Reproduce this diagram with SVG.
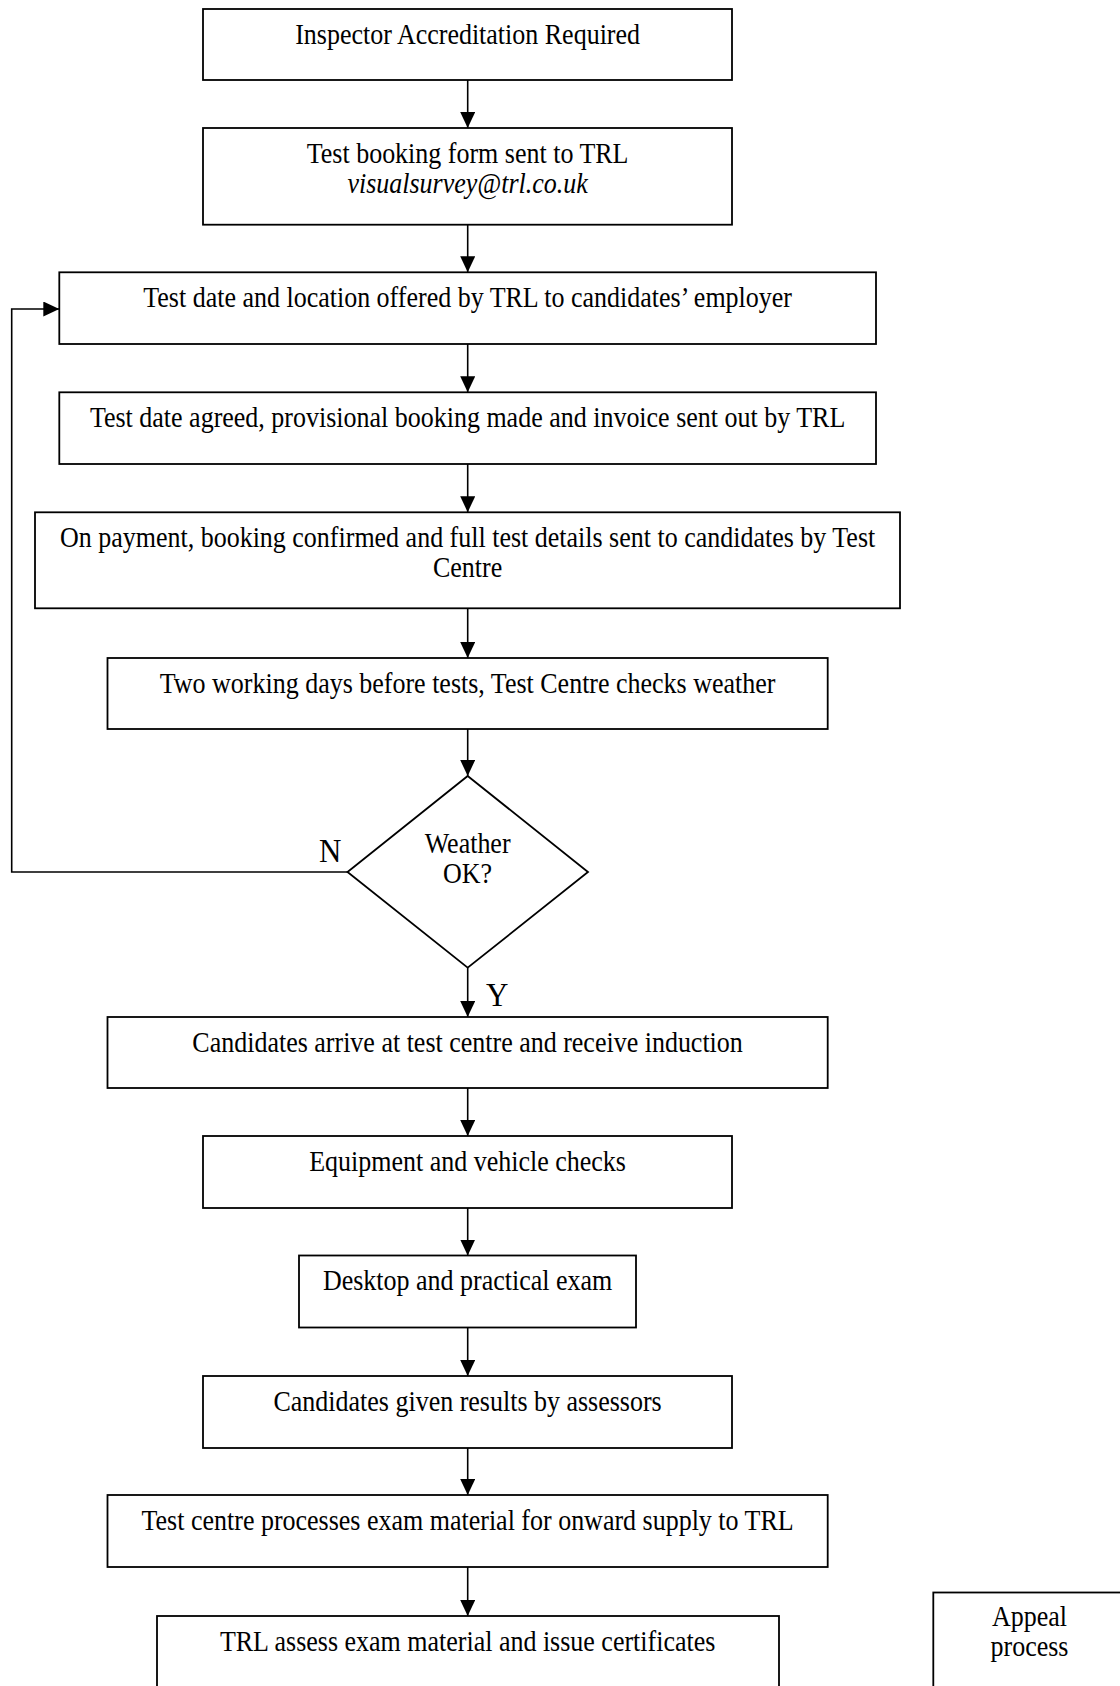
<svg xmlns="http://www.w3.org/2000/svg" width="1120" height="1686" viewBox="0 0 1120 1686">
<style>
.box{fill:#fff;stroke:#000;stroke-width:1.8}
.t{font-family:"Liberation Serif","Times New Roman",serif;font-size:26px;fill:#000;text-anchor:middle}
.lbl{font-family:"Liberation Serif","Times New Roman",serif;font-size:31px;fill:#000}
.it{font-style:italic}
.c{fill:none;stroke:#000;stroke-width:1.6}
</style>
<defs>
<marker id="ah" markerUnits="userSpaceOnUse" markerWidth="17" markerHeight="16" refX="16" refY="7.5" orient="auto">
<path d="M0,0 L16,7.5 L0,15 z" fill="#000"/>
</marker>
</defs>
<rect width="1120" height="1686" fill="#fff"/>
<g id="connectors">
<line class="c" x1="467.7" y1="80" x2="467.7" y2="128" marker-end="url(#ah)"/>
<line class="c" x1="467.7" y1="224.7" x2="467.7" y2="272.3" marker-end="url(#ah)"/>
<line class="c" x1="467.7" y1="344" x2="467.7" y2="392.3" marker-end="url(#ah)"/>
<line class="c" x1="467.7" y1="464" x2="467.7" y2="512.3" marker-end="url(#ah)"/>
<line class="c" x1="467.7" y1="608.3" x2="467.7" y2="658" marker-end="url(#ah)"/>
<line class="c" x1="467.7" y1="729" x2="467.7" y2="776" marker-end="url(#ah)"/>
<line class="c" x1="467.7" y1="967.7" x2="467.7" y2="1017" marker-end="url(#ah)"/>
<line class="c" x1="467.7" y1="1088" x2="467.7" y2="1136" marker-end="url(#ah)"/>
<line class="c" x1="467.7" y1="1208" x2="467.7" y2="1255.5" marker-end="url(#ah)"/>
<line class="c" x1="467.7" y1="1327.5" x2="467.7" y2="1376" marker-end="url(#ah)"/>
<line class="c" x1="467.7" y1="1448" x2="467.7" y2="1495" marker-end="url(#ah)"/>
<line class="c" x1="467.7" y1="1567" x2="467.7" y2="1616" marker-end="url(#ah)"/>
<polyline class="c" points="347.5,872 11.7,872 11.7,309 59.3,309" marker-end="url(#ah)"/>
<text class="lbl" transform="translate(319 862) scale(1 1.1)">N</text>
<text class="lbl" transform="translate(486 1006) scale(1 1.1)">Y</text>
</g>
<g id="n1"><rect class="box" x="203" y="9" width="529" height="71"/><text class="t" transform="translate(467.6 43.5) scale(1 1.15)">Inspector Accreditation Required</text></g>
<g id="n2"><rect class="box" x="203" y="128" width="529" height="96.7"/><text class="t" transform="translate(467.6 162.5) scale(1 1.15)">Test booking form sent to TRL</text><text class="t it" transform="translate(467.6 192.5) scale(1 1.15)">visualsurvey@trl.co.uk</text></g>
<g id="n3"><rect class="box" x="59.3" y="272.3" width="816.7" height="71.7"/><text class="t" transform="translate(467.6 307) scale(1 1.15)">Test date and location offered by TRL to candidates’ employer</text></g>
<g id="n4"><rect class="box" x="59.3" y="392.3" width="816.7" height="71.7"/><text class="t" transform="translate(467.6 426.7) scale(1 1.15)">Test date agreed, provisional booking made and invoice sent out by TRL</text></g>
<g id="n5"><rect class="box" x="35" y="512.3" width="865" height="96"/><text class="t" transform="translate(467.6 547) scale(1 1.15)">On payment, booking confirmed and full test details sent to candidates by Test</text><text class="t" transform="translate(467.6 577) scale(1 1.15)">Centre</text></g>
<g id="n6"><rect class="box" x="107.5" y="658" width="720.2" height="71"/><text class="t" transform="translate(467.6 692.5) scale(1 1.15)">Two working days before tests, Test Centre checks weather</text></g>
<g id="n7"><polygon class="box" points="467.7,776 588,872 467.7,967.7 347.5,872"/><text class="t" transform="translate(467.6 852.5) scale(1 1.15)">Weather</text><text class="t" transform="translate(467.6 882.5) scale(1 1.15)">OK?</text></g>
<g id="n8"><rect class="box" x="107.5" y="1017" width="720.2" height="71"/><text class="t" transform="translate(467.6 1051.5) scale(1 1.15)">Candidates arrive at test centre and receive induction</text></g>
<g id="n9"><rect class="box" x="203" y="1136" width="529" height="72"/><text class="t" transform="translate(467.6 1170.5) scale(1 1.15)">Equipment and vehicle checks</text></g>
<g id="n10"><rect class="box" x="299" y="1255.5" width="337" height="72"/><text class="t" transform="translate(467.6 1290) scale(1 1.15)">Desktop and practical exam</text></g>
<g id="n11"><rect class="box" x="203" y="1376" width="529" height="72"/><text class="t" transform="translate(467.6 1410.5) scale(1 1.15)">Candidates given results by assessors</text></g>
<g id="n12"><rect class="box" x="107.5" y="1495" width="720.2" height="72"/><text class="t" transform="translate(467.6 1529.5) scale(1 1.15)">Test centre processes exam material for onward supply to TRL</text></g>
<g id="n13"><rect class="box" x="157" y="1616" width="622" height="90"/><text class="t" transform="translate(467.6 1650.5) scale(1 1.15)">TRL assess exam material and issue certificates</text></g>
<g id="n14"><rect class="box" x="933.3" y="1592.5" width="220" height="110"/><text class="t" transform="translate(1029.5 1625.5) scale(1 1.15)">Appeal</text><text class="t" transform="translate(1029.5 1655.5) scale(1 1.15)">process</text></g>
</svg>
